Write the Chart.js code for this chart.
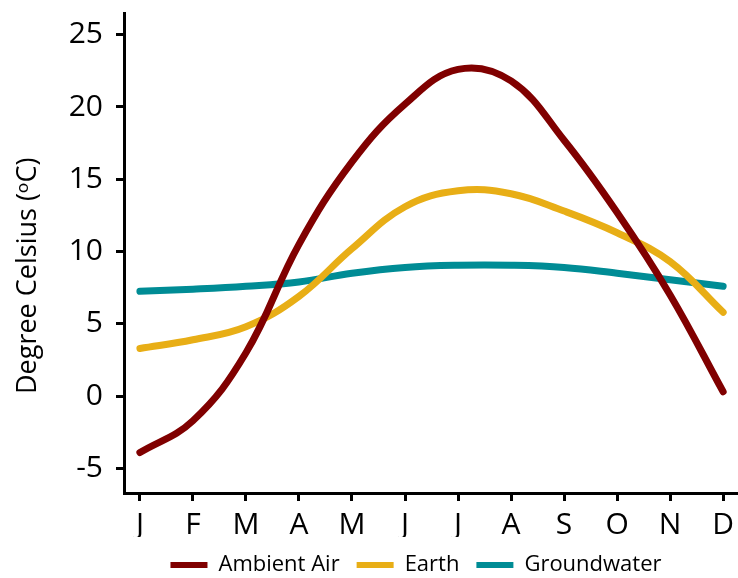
<!DOCTYPE html>
<html>
<head>
<meta charset="utf-8">
<script src="https://cdn.jsdelivr.net/npm/chart.js@4.4.1/dist/chart.umd.min.js"></script>
<style>
  html, body { margin: 0; padding: 0; background: #fff; }
  #wrap { width: 738px; height: 578px; }
</style>
</head>
<body>
<div id="wrap"><canvas id="c" width="738" height="578"></canvas></div>
<script>
const months = ['J','F','M','A','M','J','J','A','S','O','N','D'];
const ambientAir = [-3.9, -1.7, 3.0, 10.5, 16.2, 20.2, 22.6, 21.8, 17.7, 12.7, 7.0, 0.3];
const earth = [3.3, 3.9, 4.8, 6.9, 10.2, 13.1, 14.2, 14.0, 12.8, 11.3, 9.3, 5.8];
const groundwater = [7.25, 7.4, 7.6, 7.9, 8.5, 8.9, 9.05, 9.05, 8.9, 8.5, 8.05, 7.6];
const yTicks = [-5, 0, 5, 10, 15, 20, 25];
const seriesNames = ['Ambient Air', 'Earth', 'Groundwater'];
const yTitle = 'Degree Celsius (\u1D52C)';

const colors = ['#800000', '#E8AE16', '#008C95'];
const FONT = '"Open Sans", "Noto Sans", sans-serif';

function pts(arr) { return arr.map((v, i) => ({ x: i, y: v })); }

const datasets = [ambientAir, earth, groundwater].map((arr, k) => ({
  label: seriesNames[k],
  data: pts(arr),
  borderColor: colors[k],
  backgroundColor: colors[k],
  borderWidth: 7,
  borderCapStyle: 'round',
  borderJoinStyle: 'round',
  pointRadius: 0,
  pointHoverRadius: 0,
  tension: 0.4,
  fill: false
}));

const yTitlePlugin = {
  id: 'yTitle',
  afterLayout(chart) {
    if (chart.legend) { chart.legend.left += 47; chart.legend.right += 47; }
  },
  afterDraw(chart) {
    const ctx = chart.ctx;
    ctx.save();
    ctx.translate(36, 394);
    ctx.rotate(-Math.PI / 2);
    ctx.font = '27px ' + FONT;
    ctx.fillStyle = '#000';
    ctx.textAlign = 'left';
    ctx.textBaseline = 'alphabetic';
    ctx.fillText(yTitle, 0, 0);
    ctx.restore();
  }
};

new Chart(document.getElementById('c'), {
  type: 'line',
  data: { datasets },
  plugins: [yTitlePlugin],
  options: {
    responsive: false,
    animation: false,
    events: [],
    layout: { padding: { top: 13, right: 0, bottom: -8, left: 0 } },
    scales: {
      x: {
        type: 'linear',
        min: -0.3,
        max: 11.28,
        afterBuildTicks(axis) { axis.ticks = months.map((m, i) => ({ value: i })); },
        afterFit(scale) { scale.height = 44; scale.paddingLeft = 0; scale.paddingRight = 0; },
        ticks: {
          callback: (v) => months[v],
          font: { family: FONT, size: 30 },
          color: '#000',
          padding: 6,
          maxRotation: 0,
          autoSkip: false
        },
        grid: { display: true, drawOnChartArea: false, drawTicks: true, tickLength: 8, tickWidth: 3, tickColor: '#000' },
        border: { display: true, width: 3, color: '#000' }
      },
      y: {
        type: 'linear',
        min: -6.7,
        max: 26.5,
        afterBuildTicks(axis) { axis.ticks = yTicks.map(v => ({ value: v })); },
        afterFit(scale) { scale.width = 124; scale.paddingTop = 0; scale.paddingBottom = 0; },
        ticks: {
          font: { family: FONT, size: 30 },
          color: '#000',
          padding: 13
        },
        grid: { display: true, drawOnChartArea: false, drawTicks: true, tickLength: 8, tickWidth: 3, tickColor: '#000' },
        border: { display: true, width: 3, color: '#000' }
      }
    },
    plugins: {
      tooltip: { enabled: false },
      legend: {
        display: true,
        position: 'bottom',
        labels: {
          boxWidth: 37,
          boxHeight: 6,
          padding: 17,
          color: '#000',
          font: { family: FONT, size: 22 },
          generateLabels(chart) {
            return Chart.defaults.plugins.legend.labels.generateLabels(chart).map(l => Object.assign(l, { lineWidth: 0 }));
          }
        }
      }
    }
  }
});
</script>
</body>
</html>
